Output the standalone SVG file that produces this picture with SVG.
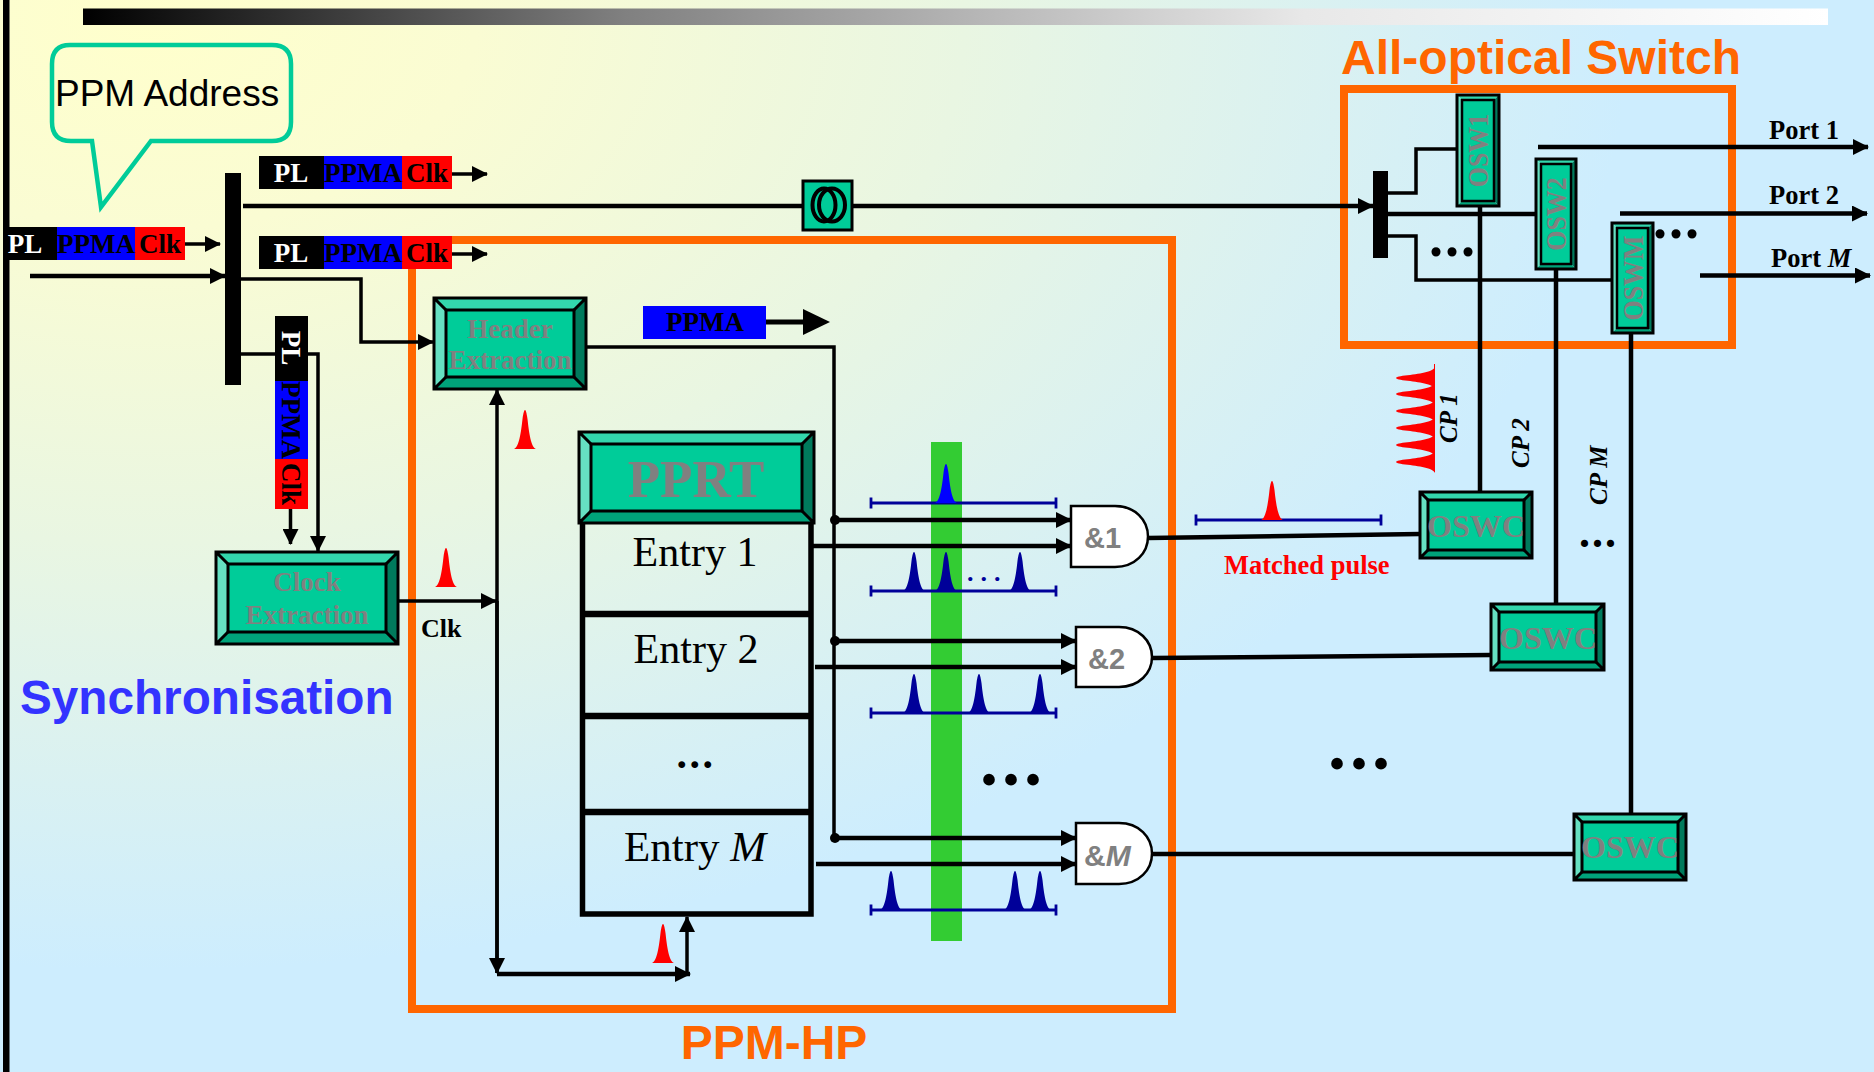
<svg xmlns="http://www.w3.org/2000/svg" xmlns:xlink="http://www.w3.org/1999/xlink" width="1874" height="1072" viewBox="0 0 1874 1072">
<defs>
<radialGradient id="bg" gradientUnits="userSpaceOnUse" cx="0" cy="0" r="1" gradientTransform="translate(150 20) scale(1480 950)">
<stop offset="0" stop-color="#ffffcc"/><stop offset="0.22" stop-color="#fafcd3"/><stop offset="0.55" stop-color="#e9f6e2"/><stop offset="1" stop-color="#cdedfe"/>
</radialGradient>
<linearGradient id="bar"><stop offset="0" stop-color="#000"/><stop offset="0.31" stop-color="#808080"/><stop offset="0.7" stop-color="#e8e8e8"/><stop offset="1" stop-color="#fff"/></linearGradient>
<marker id="a" markerUnits="userSpaceOnUse" markerWidth="16" markerHeight="16" refX="15" refY="8" orient="auto"><path d="M0 0L16 8L0 16Z"/></marker>
<path id="pulse" d="M-11 0C-6 -2 -4 -16 -2.500 -30C-1.500 -37 -0.700 -39 0 -39C0.700 -39 1.500 -37 2.500 -30C4 -16 6 -2 11 0Z"/>
<g id="tl"><path d="M0 0H186M1 -5.500V5.500M186 -5.500V5.500" fill="none" stroke="#000099" stroke-width="2.800"/></g>
</defs>
<style>
.l{fill:none;stroke:#000;stroke-width:3.500}
.t{stroke-width:4.500}
.ar{marker-end:url(#a)}
.tb{font-family:"Liberation Serif","Times New Roman",serif;font-weight:700}
.sb{font-family:"Liberation Sans",Arial,sans-serif;font-weight:700}
.p{font-size:27px;text-anchor:middle}
.gr{fill:#808080}
.w{fill:#fff}
.or{fill:#ff6600;font-size:48px}
.n{fill:#000099}
.m{text-anchor:middle}
.ln{font-size:26.500px}
.e{font-family:"Liberation Serif","Times New Roman",serif;font-size:42px;text-anchor:middle}
.d{font-size:29px}
.gate{fill:#fff;stroke:#000;stroke-width:2.500}
.box{fill:#00cc99;stroke:#000;stroke-width:3}
.b1{fill:#33d6ad}.b2{fill:#66e0c2}.b3{fill:#00a37a}.b4{fill:#007a5c}
.bl{fill:none;stroke:#000;stroke-width:3}
</style>
<rect width="1874" height="1072" fill="url(#bg)"/>
<rect x="3" width="6.500" height="1072"/>
<rect x="83" y="8.500" width="1745" height="16.500" fill="url(#bar)"/>

<g id="green-band"><rect x="931" y="442" width="31" height="499" fill="#33cc33"/></g>

<g id="hp-frame"><rect x="412" y="240" width="760" height="769" fill="none" stroke="#ff6600" stroke-width="8"/><text class="sb or m" x="774" y="1059">PPM-HP</text></g>
<g id="switch-frame"><rect x="1344" y="89" width="388" height="256" fill="none" stroke="#ff6600" stroke-width="8"/><text class="sb or" x="1341" y="74">All-optical Switch</text></g>
<text class="sb" x="20" y="714" font-size="47.700" fill="#3333ff">Synchronisation</text>

<g id="connectors">
<path class="l t" d="M243 206H803"/><path class="l t ar" d="M852 206H1373"/>
<path class="l ar" d="M185 244H220"/><path class="l t ar" d="M30 276H225"/>
<path class="l ar" d="M452 174H487"/><path class="l ar" d="M452 254H487"/>
<path class="l ar" d="M241 279H361V342H433"/>
<path class="l" d="M241 354H318V400"/><path class="l ar" d="M318 400V551"/>
<path class="l ar" d="M290.500 509V544"/>
<path class="l ar" d="M398 601H496"/>
<path class="l ar" d="M497 973V390"/><path class="l ar" d="M497 601V973"/>
<path class="l t ar" d="M497 974H690"/><path class="l ar" d="M687 974V917"/>
<path class="l" d="M766 322H806" style="stroke-width:5"/><path d="M803 309L830 322L803 335Z"/>
<path class="l" d="M586 347H834V838"/>
<path class="l t ar" d="M835 520H1071"/><path class="l t ar" d="M811 546H1071"/>
<path class="l t ar" d="M835 641H1076"/><path class="l t ar" d="M815 667H1076"/>
<path class="l t ar" d="M835 838H1076"/><path class="l t ar" d="M816 864H1076"/>
<circle cx="835" cy="520" r="5"/><circle cx="835" cy="641" r="5"/><circle cx="835" cy="838" r="5"/>
<path class="l t" d="M1148 538L1420 534"/><path class="l t" d="M1152 658L1491 655"/><path class="l t" d="M1152 854H1574"/>
<path class="l" d="M1388 193H1416V149H1457"/><path class="l t" d="M1388 214H1536"/><path class="l" d="M1388 236H1416V280H1612"/>
<path class="l t" d="M1480 206V492"/><path class="l t" d="M1556 269V604"/><path class="l t" d="M1631 333V814"/>
<path class="l t ar" d="M1538 147H1868"/><path class="l t ar" d="M1620 213.500H1867"/><path class="l t ar" d="M1700 275.500H1870"/>
</g>

<g id="callout"><path d="M70 45H272Q291 45 291 64V122Q291 141 272 141H151L101 207L92 141H71Q52 141 52 122V64Q52 45 70 45Z" fill="none" stroke="#00cc99" stroke-width="4.500"/><text x="55" y="106" font-family="Liberation Sans,Arial,sans-serif" font-size="37">PPM Address</text></g>

<g id="packet-in"><rect x="9" y="227" width="48" height="33"/><rect x="57" y="227" width="78" height="33" fill="#0000ff"/><rect x="135" y="227" width="50" height="33" fill="#ff0000"/><text class="tb p w" x="25" y="253">PL</text><text class="tb p" x="96" y="253">PPMA</text><text class="tb p" x="160" y="253">Clk</text></g>
<g id="packet-top"><rect x="259" y="156" width="65" height="33"/><rect x="324" y="156" width="78" height="33" fill="#0000ff"/><rect x="402" y="156" width="50" height="33" fill="#ff0000"/><text class="tb p w" x="291" y="182">PL</text><text class="tb p" x="363" y="182">PPMA</text><text class="tb p" x="427" y="182">Clk</text></g>
<g id="packet-mid"><rect x="259" y="236" width="65" height="33"/><rect x="324" y="236" width="78" height="33" fill="#0000ff"/><rect x="402" y="236" width="50" height="33" fill="#ff0000"/><text class="tb p w" x="291" y="262">PL</text><text class="tb p" x="363" y="262">PPMA</text><text class="tb p" x="427" y="262">Clk</text></g>
<g id="packet-vert"><rect x="275" y="316" width="33" height="65"/><rect x="275" y="381" width="33" height="78" fill="#0000ff"/><rect x="275" y="459" width="33" height="50" fill="#ff0000"/><text class="tb p w" transform="translate(282 348) rotate(90)">PL</text><text class="tb p" transform="translate(282 420) rotate(90)">PPMA</text><text class="tb p" transform="translate(282 484) rotate(90)">Clk</text></g>

<rect id="splitter" x="225" y="173" width="16" height="212"/>
<rect id="splitter2" x="1373" y="171" width="15" height="87"/>

<g id="delay"><rect x="803" y="181" width="49" height="49" fill="#00cc99" stroke="#000" stroke-width="3"/><ellipse cx="824" cy="205" rx="11.500" ry="16.500" fill="none" stroke="#000" stroke-width="4"/><ellipse cx="832" cy="205" rx="13" ry="16.500" fill="none" stroke="#000" stroke-width="4"/></g>

<g id="header-extraction"><path class="b1" d="M434 298H586L574 310H446Z"/><path class="b2" d="M434 298V389L446 377V310Z"/><path class="b3" d="M434 389H586L574 377H446Z"/><path class="b4" d="M586 298V389L574 377V310Z"/><rect class="box" x="446" y="310" width="128" height="67"/><path class="bl" d="M434 298H586V389H434ZM434 298L446 310M586 298L574 310M434 389L446 377M586 389L574 377"/><text class="tb p gr" x="510" y="338">Header</text><text class="tb p gr" x="510" y="369">Extraction</text></g>
<g id="ppma-tag"><rect x="643" y="306" width="123" height="33" fill="#0000ff"/><text class="tb p" x="705" y="331">PPMA</text></g>
<g id="clock-extraction"><path class="b1" d="M216 552H398L386 564H228Z"/><path class="b2" d="M216 552V644L228 632V564Z"/><path class="b3" d="M216 644H398L386 632H228Z"/><path class="b4" d="M398 552V644L386 632V564Z"/><rect class="box" x="228" y="564" width="158" height="68"/><path class="bl" d="M216 552H398V644H216ZM216 552L228 564M398 552L386 564M216 644L228 632M398 644L386 632"/><text class="tb p gr" x="307" y="591">Clock</text><text class="tb p gr" x="307" y="624">Extraction</text></g>
<text class="tb" x="421" y="637" font-size="26">Clk</text>

<g id="pprt"><path d="M582.500 520V914H811V520" fill="none" stroke="#000" stroke-width="5.500"/><path d="M582.500 614H811M582.500 716H811M582.500 812H811" fill="none" stroke="#000" stroke-width="6.500"/><path class="b1" d="M579 432H814L802 444H591Z"/><path class="b2" d="M579 432V523L591 511V444Z"/><path class="b3" d="M579 523H814L802 511H591Z"/><path class="b4" d="M814 432V523L802 511V444Z"/><rect class="box" x="591" y="444" width="211" height="67"/><path class="bl" d="M579 432H814V523H579ZM579 432L591 444M814 432L802 444M579 523L591 511M814 523L802 511"/><text class="tb m gr" x="696" y="497" font-size="53">PPRT</text>
<text class="e" x="695" y="566">Entry 1</text><text class="e" x="696" y="663">Entry 2</text><text class="e" x="696" y="768" font-weight="700" letter-spacing="2.500">...</text><text class="e" x="695" y="861" style="font-size:43px">Entry <tspan font-style="italic">M</tspan></text></g>

<g id="gate1"><path class="gate" d="M1071 506H1115C1135 506 1148 520 1148 536.500C1148 553 1135 567 1115 567H1071Z"/><text class="sb d gr" x="1084" y="548">&amp;1</text></g>
<g id="gate2"><path class="gate" d="M1076 627H1119C1139 627 1152 641 1152 657C1152 673 1139 687 1119 687H1076Z"/><text class="sb d gr" x="1088" y="669">&amp;2</text></g>
<g id="gateM"><path class="gate" d="M1076 823H1119C1139 823 1152 837 1152 853.500C1152 870 1139 884 1119 884H1076Z"/><text class="sb gr" x="1084" y="866" font-size="30">&amp;<tspan font-style="italic">M</tspan></text></g>

<g id="timelines">
<use href="#tl" x="870" y="503"/><use href="#tl" x="870" y="591"/><use href="#tl" x="870" y="713"/><use href="#tl" x="870" y="910"/><use href="#tl" x="1195" y="520"/>
<use href="#pulse" x="946" y="503" fill="#0000ff"/>
<g fill="#000099"><use href="#pulse" x="914" y="591"/><use href="#pulse" x="946" y="591"/><use href="#pulse" x="1020" y="591"/><use href="#pulse" x="914" y="713"/><use href="#pulse" x="979" y="713"/><use href="#pulse" x="1040" y="713"/><use href="#pulse" x="891" y="910"/><use href="#pulse" x="1015" y="910"/><use href="#pulse" x="1040" y="910"/></g>
<text class="tb n" x="967" y="581" font-size="26" letter-spacing="7">...</text>
</g>
<g id="red-pulses" fill="#ff0000"><use href="#pulse" x="1272" y="520"/><use href="#pulse" x="446" y="587"/><use href="#pulse" x="525" y="449"/><use href="#pulse" x="663" y="963"/>
<rect x="1434" y="364" width="1" height="108"/>
<use href="#pulse" transform="translate(1435 378) rotate(-90)"/><use href="#pulse" transform="translate(1435 394) rotate(-90)"/><use href="#pulse" transform="translate(1435 411) rotate(-90)"/><use href="#pulse" transform="translate(1435 428) rotate(-90)"/><use href="#pulse" transform="translate(1435 445) rotate(-90)"/><use href="#pulse" transform="translate(1435 462) rotate(-90)"/></g>
<text class="tb" x="1224" y="574" font-size="26.500" fill="#ff0000">Matched pulse</text>

<g id="osw1"><path class="b1" d="M1457 95H1499L1494 100H1462Z"/><path class="b2" d="M1457 95V206L1462 201V100Z"/><path class="b3" d="M1457 206H1499L1494 201H1462Z"/><path class="b4" d="M1499 95V206L1494 201V100Z"/><rect class="box" x="1462" y="100" width="32" height="101" style="stroke-width:2.500"/><rect class="bl" x="1457" y="95" width="42" height="111"/><text class="tb m gr" font-size="26" transform="translate(1488 150.500) rotate(-90) scale(1 1.150)">OSW1</text></g>
<g id="osw2"><path class="b1" d="M1536 159H1576L1571 164H1541Z"/><path class="b2" d="M1536 159V269L1541 264V164Z"/><path class="b3" d="M1536 269H1576L1571 264H1541Z"/><path class="b4" d="M1576 159V269L1571 264V164Z"/><rect class="box" x="1541" y="164" width="30" height="100" style="stroke-width:2.500"/><rect class="bl" x="1536" y="159" width="40" height="110"/><text class="tb m gr" font-size="26" transform="translate(1566 214) rotate(-90) scale(1 1.150)">OSW2</text></g>
<g id="oswM"><path class="b1" d="M1612 223H1653L1648 228H1617Z"/><path class="b2" d="M1612 223V333L1617 328V228Z"/><path class="b3" d="M1612 333H1653L1648 328H1617Z"/><path class="b4" d="M1653 223V333L1648 328V228Z"/><rect class="box" x="1617" y="228" width="31" height="100" style="stroke-width:2.500"/><rect class="bl" x="1612" y="223" width="41" height="110"/><text class="tb m gr" font-size="26" transform="translate(1643 278) rotate(-90) scale(1 1.150)">OSWM</text></g>

<g id="oswc1"><path class="b1" d="M1420 492H1532L1524 500H1428Z"/><path class="b2" d="M1420 492V558L1428 550V500Z"/><path class="b3" d="M1420 558H1532L1524 550H1428Z"/><path class="b4" d="M1532 492V558L1524 550V500Z"/><rect class="box" x="1428" y="500" width="96" height="50"/><path class="bl" d="M1420 492H1532V558H1420ZM1420 492L1428 500M1532 492L1524 500M1420 558L1428 550M1532 558L1524 550"/><text class="tb m gr" x="1476" y="537" font-size="32">OSWC</text></g>
<g id="oswc2"><path class="b1" d="M1491 604H1604L1596 612H1499Z"/><path class="b2" d="M1491 604V670L1499 662V612Z"/><path class="b3" d="M1491 670H1604L1596 662H1499Z"/><path class="b4" d="M1604 604V670L1596 662V612Z"/><rect class="box" x="1499" y="612" width="97" height="50"/><path class="bl" d="M1491 604H1604V670H1491ZM1491 604L1499 612M1604 604L1596 612M1491 670L1499 662M1604 670L1596 662"/><text class="tb m gr" x="1548" y="649" font-size="32">OSWC</text></g>
<g id="oswcM"><path class="b1" d="M1574 814H1686L1678 822H1582Z"/><path class="b2" d="M1574 814V880L1582 872V822Z"/><path class="b3" d="M1574 880H1686L1678 872H1582Z"/><path class="b4" d="M1686 814V880L1678 872V822Z"/><rect class="box" x="1582" y="822" width="96" height="50"/><path class="bl" d="M1574 814H1686V880H1574ZM1574 814L1582 822M1686 814L1678 822M1574 880L1582 872M1686 880L1678 872"/><text class="tb m gr" x="1630" y="858" font-size="32">OSWC</text></g>

<g id="labels" class="tb">
<text class="ln" x="1769" y="139">Port 1</text><text class="ln" x="1769" y="204">Port 2</text><text class="ln" x="1771" y="267">Port <tspan font-style="italic">M</tspan></text>
<text font-style="italic" transform="translate(1457 443) rotate(-90)" font-size="25">CP 1</text>
<text font-style="italic" transform="translate(1529 468) rotate(-90)" font-size="25">CP 2</text>
<text font-style="italic" transform="translate(1607 505) rotate(-90)" font-size="25">CP M</text>
<text x="1429" y="256" font-size="56" letter-spacing="2">...</text>
<text x="1653" y="238" font-size="56" letter-spacing="2">...</text>
<text x="980" y="785" font-size="72" letter-spacing="4">...</text>
<text x="1328" y="769" font-size="72" letter-spacing="4">...</text>
<text x="1579" y="547" font-size="44" letter-spacing="2">...</text>
</g>
</svg>
